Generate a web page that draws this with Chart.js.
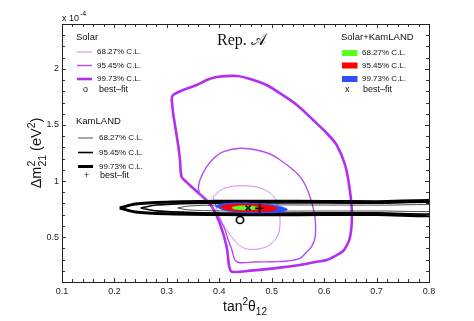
<!DOCTYPE html>
<html><head><meta charset="utf-8">
<script src="https://cdn.jsdelivr.net/npm/chart.js@4.4.0/dist/chart.umd.min.js"></script>
<style>html,body{margin:0;padding:0;background:#fff}</style>
</head><body>
<canvas id="c" width="474" height="321"></canvas>
<script>
// ---- data (tan^2 theta12, Delta m^2_21 in 1e-4 eV^2) ----
const X_TICKS = [0.1,0.2,0.3,0.4,0.5,0.6,0.7,0.8];
const Y_TICKS = [0.5,1,1.5,2];
const X_RANGE = [0.1,0.8];
const Y_RANGE = [0.1,2.4];

const SOLAR_68 = [[0.388,0.858],[0.398,0.902],[0.411,0.938],[0.430,0.956],[0.455,0.956],[0.478,0.938],[0.497,0.893],[0.508,0.831],[0.514,0.742],[0.516,0.635],[0.514,0.546],[0.506,0.474],[0.493,0.421],[0.474,0.394],[0.453,0.394],[0.440,0.421],[0.428,0.474],[0.417,0.546],[0.405,0.635],[0.396,0.742],[0.388,0.858]];
const SOLAR_95 = [[0.360,0.938],[0.363,1.009],[0.376,1.128],[0.392,1.214],[0.408,1.262],[0.440,1.292],[0.471,1.277],[0.497,1.241],[0.516,1.188],[0.539,1.107],[0.554,1.039],[0.565,0.956],[0.573,0.860],[0.579,0.760],[0.583,0.653],[0.583,0.504],[0.576,0.415],[0.565,0.359],[0.554,0.311],[0.529,0.287],[0.503,0.281],[0.468,0.278],[0.440,0.272],[0.430,0.296],[0.424,0.385],[0.417,0.474],[0.411,0.564],[0.403,0.644],[0.395,0.712],[0.384,0.778],[0.373,0.831],[0.363,0.885],[0.360,0.938]];
const SOLAR_99 = [[0.309,1.738],[0.312,1.767],[0.331,1.812],[0.357,1.856],[0.376,1.901],[0.395,1.928],[0.434,1.936],[0.465,1.901],[0.490,1.856],[0.516,1.782],[0.548,1.678],[0.579,1.544],[0.605,1.426],[0.624,1.321],[0.640,1.143],[0.649,0.920],[0.653,0.697],[0.649,0.492],[0.638,0.385],[0.630,0.356],[0.605,0.296],[0.586,0.281],[0.554,0.252],[0.516,0.228],[0.459,0.201],[0.424,0.192],[0.419,0.236],[0.414,0.415],[0.401,0.623],[0.386,0.771],[0.369,0.858],[0.354,0.920],[0.337,0.992],[0.328,1.039],[0.325,1.188],[0.322,1.306],[0.317,1.455],[0.312,1.604],[0.309,1.738]];

const KL_68 = [[0.321,0.760],[0.34,0.777],[0.40,0.786],[0.50,0.787],[0.60,0.786],[0.70,0.785],[0.85,0.784],[0.85,0.734],[0.70,0.733],[0.60,0.733],[0.50,0.732],[0.40,0.734],[0.34,0.743],[0.321,0.760]];
const KL_95 = [[0.25,0.760],[0.28,0.786],[0.35,0.801],[0.45,0.805],[0.60,0.804],[0.70,0.803],[0.85,0.802],[0.85,0.716],[0.70,0.716],[0.60,0.716],[0.45,0.715],[0.35,0.719],[0.28,0.734],[0.25,0.760]];
const KL_99 = [[0.21,0.760],[0.24,0.796],[0.30,0.812],[0.40,0.819],[0.50,0.820],[0.60,0.818],[0.70,0.816],[0.85,0.815],[0.85,0.702],[0.70,0.702],[0.60,0.701],[0.50,0.700],[0.40,0.702],[0.30,0.708],[0.24,0.724],[0.21,0.760]];

const COMB_68 = [[0.424,0.765],[0.435,0.777],[0.450,0.780],[0.465,0.776],[0.475,0.762],[0.470,0.748],[0.455,0.742],[0.438,0.745],[0.426,0.754],[0.424,0.765]];
const COMB_95 = [[0.402,0.772],[0.415,0.789],[0.440,0.796],[0.470,0.793],[0.495,0.781],[0.510,0.760],[0.505,0.738],[0.485,0.728],[0.455,0.727],[0.425,0.735],[0.407,0.752],[0.402,0.772]];
const COMB_99 = [[0.392,0.775],[0.405,0.797],[0.430,0.806],[0.460,0.805],[0.490,0.795],[0.515,0.775],[0.530,0.748],[0.522,0.727],[0.500,0.718],[0.465,0.716],[0.430,0.725],[0.405,0.745],[0.392,0.775]];

const BF_SOLAR = [0.4395,0.653];
const BF_KL = [0.477,0.757];
const BF_COMB = [0.455,0.760];

const LEVELS = ['68.27% C.L.','95.45% C.L.','99.73% C.L.'];

// ---- styles ----
const PURPLE = ['#c77cf3','#b64cf0','#b12ff0'];
const PURPLE_W = [0.9,1.4,2.6];
const BLACK_W = [0.7,1.6,3.0];
const FILLS = ['#5dff1e','#ff0000','#2f4dff'];
const FAM = '"Liberation Sans", Arial, Helvetica, sans-serif';

const pts = a => a.map(p => ({x:p[0], y:p[1]}));
const lineDs = (data, color, w, order) => ({data: pts(data), showLine:true, borderColor:color, borderWidth:w, pointRadius:0, fill:false, tension:0.3, order});
const fillDs = (data, color, order) => ({data: pts(data), showLine:true, borderColor:color, backgroundColor:color, borderWidth:0.5, pointRadius:0, fill:'shape', tension:0.35, order});
const markDs = (p, style, r, order) => ({data:[{x:p[0],y:p[1]}], showLine:false, pointStyle:style, pointRadius:r, borderColor:'#000', backgroundColor:'rgba(0,0,0,0)', pointBorderWidth:1.6, borderWidth:1.6, order});

const datasets = [
  lineDs(SOLAR_99, PURPLE[2], PURPLE_W[2], 30),
  lineDs(SOLAR_95, PURPLE[1], PURPLE_W[1], 29),
  lineDs(SOLAR_68, PURPLE[0], PURPLE_W[0], 28),
  lineDs(KL_99, '#000', BLACK_W[2], 20),
  lineDs(KL_95, '#000', BLACK_W[1], 19),
  lineDs(KL_68, '#000', BLACK_W[0], 18),
  fillDs(COMB_99, FILLS[2], 12),
  fillDs(COMB_95, FILLS[1], 11),
  fillDs(COMB_68, FILLS[0], 10),
  markDs(BF_SOLAR, 'circle', 3.6, 3),
  markDs(BF_KL, 'cross', 4.5, 2),
  markDs(BF_COMB, 'crossRot', 3.5, 1)
];

function rich(ctx, items, cx, base){
  let w = 0; const ws = [];
  for (const it of items){
    ctx.font = `${it.s}px ${FAM}`;
    const a = it.stack ? Math.max(ctx.measureText(it.stack[0]).width, ctx.measureText(it.stack[1]).width)
                       : ctx.measureText(it.t).width;
    ws.push(a); w += a;
  }
  let x = cx - w/2;
  ctx.textAlign = 'left'; ctx.textBaseline = 'alphabetic';
  items.forEach((it,i) => {
    ctx.font = `${it.s}px ${FAM}`;
    if (it.stack){ ctx.fillText(it.stack[0], x, base-6.5); ctx.fillText(it.stack[1], x, base+4.5); }
    else ctx.fillText(it.t, x, base + (it.dy||0));
    x += ws[i];
  });
}

const deco = {
  id:'deco',
  afterDraw(chart){
    const {ctx, chartArea:a, scales:{x, y}} = chart;
    ctx.save();
    // ticks (inward, all four sides)
    ctx.strokeStyle = '#333'; ctx.lineWidth = 1;
    ctx.beginPath();
    for (let i = 0; i <= 35; i++){
      const v = X_RANGE[0] + i*0.02;
      const px = Math.round(x.getPixelForValue(v)) + 0.5;
      const L = (i % 5 === 0) ? 4 : 3;
      ctx.moveTo(px, a.bottom); ctx.lineTo(px, a.bottom - L);
      ctx.moveTo(px, a.top); ctx.lineTo(px, a.top + L);
    }
    for (let i = 0; i <= 23; i++){
      const v = Y_RANGE[0] + i*0.1;
      const py = Math.round(y.getPixelForValue(v)) + 0.5;
      const major = Y_TICKS.some(t => Math.abs(t - v) < 1e-6);
      const L = major ? 4 : 3;
      ctx.moveTo(a.left, py); ctx.lineTo(a.left + L, py);
      ctx.moveTo(a.right, py); ctx.lineTo(a.right - L, py);
    }
    ctx.stroke();
    ctx.strokeStyle = '#222';
    ctx.strokeRect(Math.round(a.left)+0.5, Math.round(a.top)+0.5, Math.round(a.right-a.left), Math.round(a.bottom-a.top));

    ctx.fillStyle = '#111';
    // exponent
    ctx.font = `9px ${FAM}`; ctx.textAlign='left'; ctx.textBaseline='alphabetic';
    ctx.fillText('x 10', 62, 21);
    ctx.font = `7px ${FAM}`;
    ctx.fillText('-4', 80, 16);

    // axis titles
    rich(ctx, [{t:'tan',s:14},{t:'2',s:10,dy:-6},{t:'θ',s:14},{t:'12',s:10,dy:4}], 245, 311);
    ctx.save();
    ctx.translate(41, 153); ctx.rotate(-Math.PI/2);
    rich(ctx, [{t:'Δm',s:14.5},{stack:['2','21'],s:10.5},{t:' (eV',s:14.5},{t:'2',s:10.5,dy:-6},{t:')',s:14.5}], 0, 0);
    ctx.restore();

    // Rep. A
    ctx.font = `16px "Liberation Serif", "DejaVu Serif", serif`;
    ctx.textAlign='left';
    ctx.fillText('Rep. 𝒜', 217, 45);

    // legends
    ctx.textBaseline = 'middle';
    ctx.font = `9.5px ${FAM}`;
    ctx.fillText('Solar', 76, 37);
    ctx.fillText('KamLAND', 76, 121);
    ctx.fillText('Solar+KamLAND', 341, 37);
    ctx.font = `8px ${FAM}`;
    const sy = [52, 65.5, 79];
    const ky = [138, 152.5, 166.5];
    const cy = [53, 65.5, 79];
    for (let i = 0; i < 3; i++){
      ctx.strokeStyle = PURPLE[i]; ctx.lineWidth = PURPLE_W[i];
      ctx.beginPath(); ctx.moveTo(77, sy[i]); ctx.lineTo(92, sy[i]); ctx.stroke();
      ctx.fillText(LEVELS[i], 97, sy[i]);
      ctx.strokeStyle = '#000'; ctx.lineWidth = BLACK_W[i];
      ctx.beginPath(); ctx.moveTo(78, ky[i]); ctx.lineTo(93, ky[i]); ctx.stroke();
      ctx.fillText(LEVELS[i], 99, ky[i]);
      ctx.fillStyle = FILLS[i];
      ctx.fillRect(342, cy[i]-3, 15.5, 6);
      ctx.fillStyle = '#111';
      ctx.fillText(LEVELS[i], 362, cy[i]);
    }
    ctx.font = `9px ${FAM}`;
    ctx.fillText('o', 83, 90);
    ctx.fillText('best\u2013fit', 99, 90);
    ctx.fillText('+', 84, 176);
    ctx.fillText('best\u2013fit', 100, 176);
    ctx.fillText('x', 345, 89.5);
    ctx.fillText('best\u2013fit', 363, 89.5);
    ctx.restore();
  }
};

new Chart(document.getElementById('c'), {
  type:'scatter',
  data:{datasets},
  options:{
    responsive:false, animation:false, devicePixelRatio:1,
    layout:{padding:{left:0, right:45, top:24, bottom:0}},
    plugins:{legend:{display:false}, tooltip:{enabled:false}},
    scales:{
      x:{type:'linear', min:X_RANGE[0], max:X_RANGE[1],
         grid:{display:false, drawTicks:false}, border:{display:false},
         afterBuildTicks: s => { s.ticks = X_TICKS.map(v => ({value:v})); },
         afterFit: s => { s.height = 39; },
         ticks:{padding:4, color:'#222', font:{family:FAM, size:9}, autoSkip:false, maxRotation:0,
                callback: v => String(Math.round(v*10)/10)}},
      y:{type:'linear', min:Y_RANGE[0], max:Y_RANGE[1],
         grid:{display:false, drawTicks:false}, border:{display:false},
         afterBuildTicks: s => { s.ticks = Y_TICKS.map(v => ({value:v})); },
         afterFit: s => { s.width = 62; },
         ticks:{padding:3, color:'#222', font:{family:FAM, size:9}, autoSkip:false,
                callback: v => String(v)}}
    }
  },
  plugins:[deco]
});
</script>
</body></html>
